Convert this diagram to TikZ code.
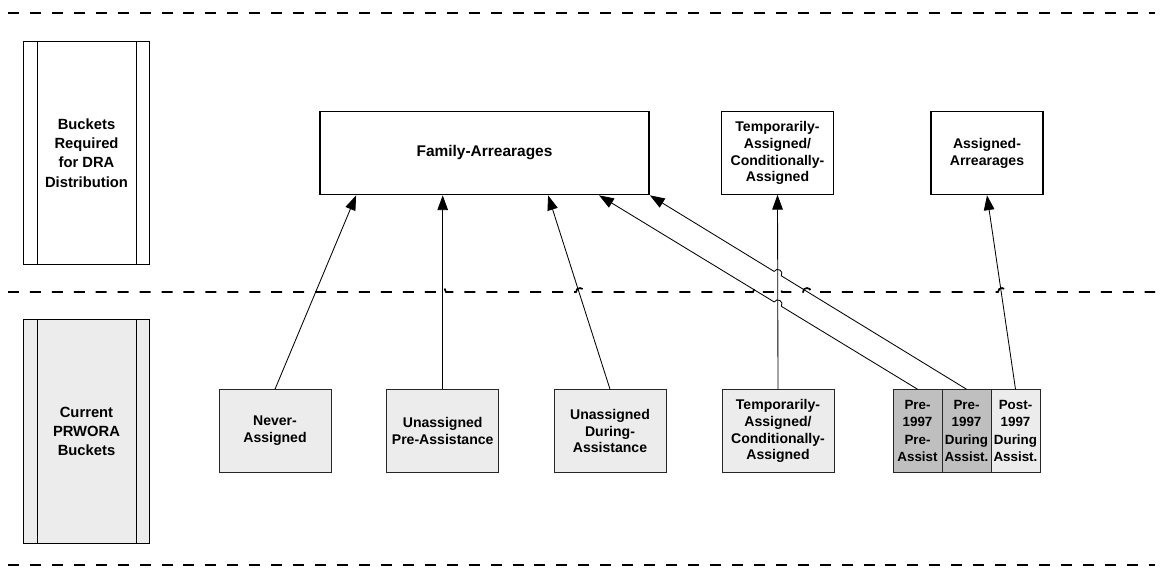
\documentclass[tikz,border=0pt]{standalone}
\usepackage{fontspec}
\setmainfont{Liberation Sans}
\usetikzlibrary{arrows.meta,calc,intersections}

\tikzset{
  bucket/.style={draw, align=center, inner sep=0pt,
    minimum width=2.8cm, minimum height=2.075cm,
    font=\bfseries\fontsize{10}{12}\selectfont},
  oldbucket/.style={bucket, fill=gray!15, draw=black!85},
  part/.style={oldbucket, minimum width=1.225cm,
    font=\bfseries\fontsize{9.5}{12.4}\selectfont},
  sidebar/.style={draw, align=center, inner sep=0pt,
    minimum width=3.16cm, minimum height=5.585cm,
    font=\bfseries\fontsize{10.5}{13.7}\selectfont},
  lane/.style={dash pattern=on 7.8pt off 7.8pt, line width=1.2pt},
  arr/.style={-{Triangle[length=10.5pt,width=7.5pt]}, line width=0.6pt},
  hop/.style={bend left=90, looseness=1.7},
}

\begin{document}
\begin{tikzpicture}[x=0.025cm, y=-0.025cm]
\useasboundingbox (0,0) rectangle (1160,574);

% swim lanes
\draw[lane] (8,13) -- (1155,13);
\draw[lane] (8,292) -- (438,292) to[hop] (446,292) -- (576,292) to[hop] (584,292)
  -- (753,292) to[hop] (761,292) -- (774,292) to[hop] (782,292)
  -- (803,292) to[hop] (811,292) -- (998,292) to[hop] (1006,292) -- (1155,292);
\draw[lane] (8,565) -- (1155,565);

% side labels
\node[sidebar] (dra) at (86.5,153) {Buckets\\Required\\for DRA\\Distribution};
\node[sidebar, fill=gray!15] (prw) at (86.5,431.5) {Current\\PRWORA\\Buckets};
\foreach \s in {dra,prw} {
  \draw ($(\s.north west)+(14.4,0)$) -- ($(\s.south west)+(14.4,0)$);
  \draw ($(\s.north east)+(-14,0)$) -- ($(\s.south east)+(-14,0)$);
}

% DRA buckets
\node[bucket, line width=1.2pt, minimum width=8.225cm,
  font=\bfseries\fontsize{11}{13}\selectfont] (fam) at (484.5,153) {Family-Arrearages};
\node[bucket] (tca) at (777.5,153) {Temporarily-\\Assigned/\\Conditionally-\\Assigned};
\node[bucket, line width=1.2pt] (asg) at (987,153) {Assigned-\\Arrearages};

% PRWORA buckets
\node[oldbucket] (nev) at (275,431) {Never-\\Assigned};
\node[oldbucket] (upa) at (442.7,431) {Unassigned\\Pre-Assistance};
\node[oldbucket] (uda) at (610,431) {Unassigned\\During-\\Assistance};
\node[oldbucket] (tcb) at (778,431) {Temporarily-\\Assigned/\\Conditionally-\\Assigned};
\node[part, fill=gray!50] (pre) at (917.5,431) {Pre-\\1997\\Pre-\\Assist};
\node[part, fill=gray!50] (prd) at (966.5,431) {Pre-\\1997\\During\\Assist.};
\node[part] (pod) at (1015.5,431) {Post-\\1997\\During\\Assist.};

% arrows
\coordinate (f1) at ($(fam.south west)+(280,0)$);
\coordinate (f2) at (fam.south east);
\draw[arr] (nev.north) -- ($(fam.south west)+(37,0)$);
\draw[arr] (upa.north) -- (upa.north |- fam.south);
\draw[arr] (uda.north) -- ($(fam.south west)+(229,0)$);
\draw[arr, name path=tv] (tcb.north) -- (tca.south);
\draw[arr] (pod.north) -- (asg.south);

\path[name path=l1] (pre.north) -- (f1);
\path[name path=l2] (prd.north) -- (f2);
\path[name intersections={of=tv and l1, by=j1}];
\path[name intersections={of=tv and l2, by=j2}];
\draw[arr] (pre.north) -- ($(j1)!3pt!(pre.north)$) to[bend right=90, looseness=1.7]
  ($(j1)!3pt!(f1)$) -- (f1);
\draw[arr] (prd.north) -- ($(j2)!3pt!(prd.north)$) to[bend right=90, looseness=1.7]
  ($(j2)!3pt!(f2)$) -- (f2);
\end{tikzpicture}
\end{document}
